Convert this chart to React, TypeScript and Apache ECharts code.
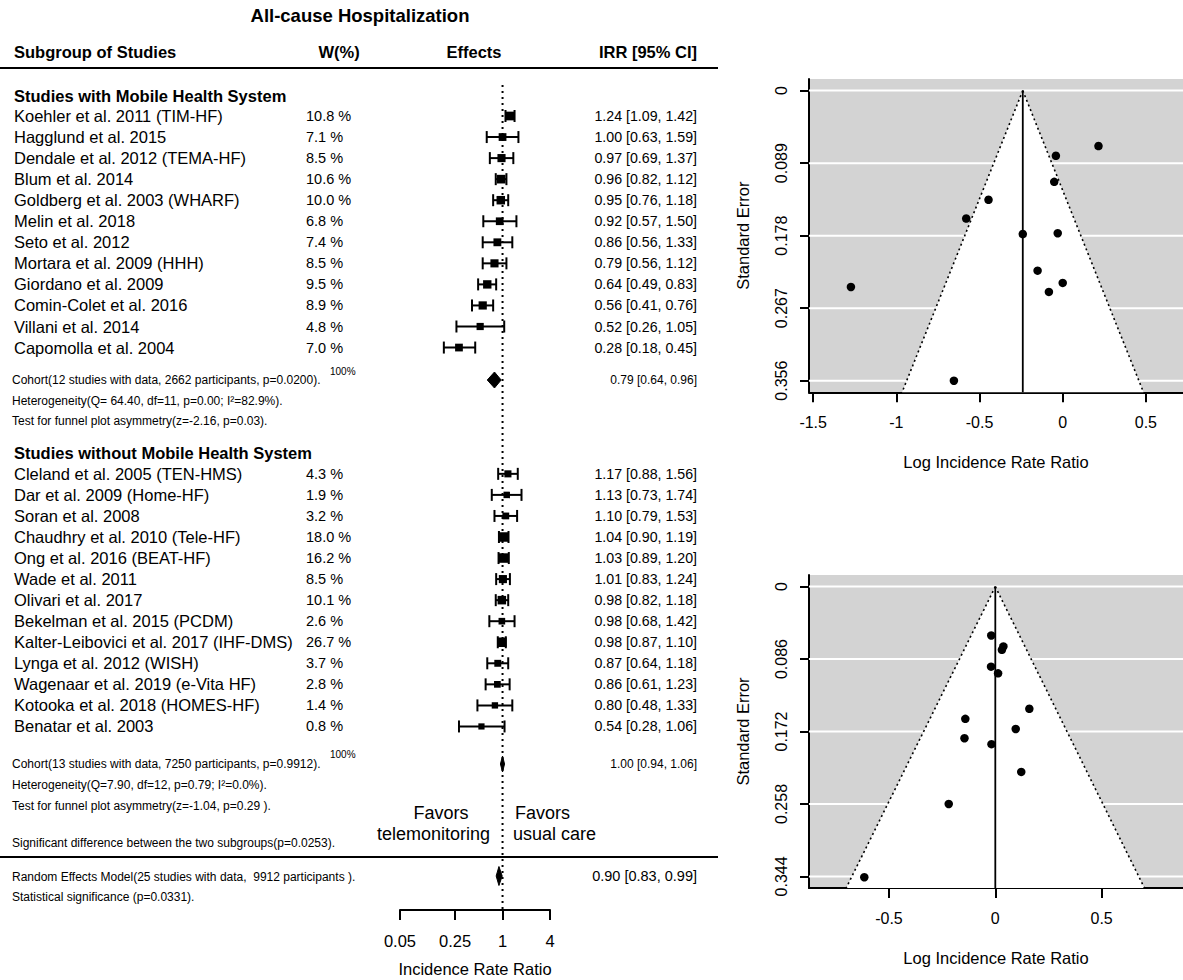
import { useEffect, useRef } from "react";
import * as echarts from "echarts";

// ---------- Forest plot data ----------
const mobileStudies = [
  "Koehler et al. 2011 (TIM-HF)",
  "Hagglund et al. 2015",
  "Dendale et al. 2012 (TEMA-HF)",
  "Blum et al. 2014",
  "Goldberg et al. 2003 (WHARF)",
  "Melin et al. 2018",
  "Seto et al. 2012",
  "Mortara et al. 2009 (HHH)",
  "Giordano et al. 2009",
  "Comin-Colet et al. 2016",
  "Villani et al. 2014",
  "Capomolla et al. 2004",
];
const mobileWeights = [10.8, 7.1, 8.5, 10.6, 10.0, 6.8, 7.4, 8.5, 9.5, 8.9, 4.8, 7.0];
const mobileIRR = [1.24, 1.0, 0.97, 0.96, 0.95, 0.92, 0.86, 0.79, 0.64, 0.56, 0.52, 0.28];
const mobileLower = [1.09, 0.63, 0.69, 0.82, 0.76, 0.57, 0.56, 0.56, 0.49, 0.41, 0.26, 0.18];
const mobileUpper = [1.42, 1.59, 1.37, 1.12, 1.18, 1.5, 1.33, 1.12, 0.83, 0.76, 1.05, 0.45];

const usualStudies = [
  "Cleland et al. 2005 (TEN-HMS)",
  "Dar et al. 2009 (Home-HF)",
  "Soran et al. 2008",
  "Chaudhry et al. 2010 (Tele-HF)",
  "Ong et al. 2016 (BEAT-HF)",
  "Wade et al. 2011",
  "Olivari et al. 2017",
  "Bekelman et al. 2015 (PCDM)",
  "Kalter-Leibovici et al. 2017 (IHF-DMS)",
  "Lynga et al. 2012 (WISH)",
  "Wagenaar et al. 2019 (e-Vita HF)",
  "Kotooka et al. 2018 (HOMES-HF)",
  "Benatar et al. 2003",
];
const usualWeights = [4.3, 1.9, 3.2, 18.0, 16.2, 8.5, 10.1, 2.6, 26.7, 3.7, 2.8, 1.4, 0.8];
const usualIRR = [1.17, 1.13, 1.1, 1.04, 1.03, 1.01, 0.98, 0.98, 0.98, 0.87, 0.86, 0.8, 0.54];
const usualLower = [0.88, 0.73, 0.79, 0.9, 0.89, 0.83, 0.82, 0.68, 0.87, 0.64, 0.61, 0.48, 0.28];
const usualUpper = [1.56, 1.74, 1.53, 1.19, 1.2, 1.24, 1.18, 1.42, 1.1, 1.18, 1.23, 1.33, 1.06];

// summaries: mobile cohort, usual cohort, random effects model
const summaryIRR = [0.79, 1.0, 0.9];
const summaryLower = [0.64, 0.94, 0.83];
const summaryUpper = [0.96, 1.06, 0.99];

const irrTicks = [0.05, 0.25, 1, 4];
const irrTickLabels = ["0.05", "0.25", "1", "4"];

// ---------- Funnel plot data ----------
const funnelMobileLogIRR = [0.215, 0.0, -0.03, -0.041, -0.051, -0.083, -0.151, -0.24, -0.446, -0.58, -0.654, -1.273];
const funnelMobileSE = [0.068, 0.236, 0.175, 0.08, 0.112, 0.247, 0.221, 0.176, 0.134, 0.157, 0.356, 0.241];
const funnelMobileCenter = -0.24;
const funnelMobileSETicks = [0, 0.089, 0.178, 0.267, 0.356];
const funnelMobileXTicks = [-1.5, -1, -0.5, 0, 0.5];

const funnelUsualLogIRR = [0.16, 0.122, 0.096, 0.038, 0.031, 0.013, -0.02, -0.018, -0.019, -0.141, -0.145, -0.219, -0.616];
const funnelUsualSE = [0.145, 0.22, 0.169, 0.071, 0.075, 0.103, 0.095, 0.187, 0.058, 0.157, 0.18, 0.258, 0.345];
const funnelUsualCenter = 0;
const funnelUsualSETicks = [0, 0.086, 0.172, 0.258, 0.344];
const funnelUsualXTicks = [-0.5, 0, 0.5];

// ---------- layout ----------
const FONT = "'Liberation Sans', Arial, Helvetica, sans-serif";
const ROW0_Y = 116;
const ROW_H = 21.05;
const Y_MIN = -4;
const AXIS_Y = 910;
const Y_MAX = (AXIS_Y - ROW0_Y) / ROW_H;
const rowOf = (px: number) => (px - ROW0_Y) / ROW_H;

function txt(text: string, x: number, y: number, size: number, opts: any = {}) {
  const align = opts.align || "left";
  return {
    type: "text",
    x,
    y,
    z: 20,
    silent: true,
    style: {
      text,
      fontSize: size,
      fontFamily: FONT,
      fontWeight: opts.bold ? "bold" : "normal",
      fill: "#000",
      align,
      verticalAlign: "middle",
      textAlign: align,
      textVerticalAlign: "middle",
    },
  };
}
function hline(y: number, x1: number, x2: number, w: number) {
  return {
    type: "line",
    z: 20,
    silent: true,
    shape: { x1, y1: y, x2, y2: y },
    style: { stroke: "#000", lineWidth: w },
  };
}

function funnelRender(center: number, seTicks: number[], seExt: number, xMin: number, xMax: number) {
  return (params: any, api: any) => {
    const children: any[] = [];
    seTicks.forEach((t) => {
      const a = api.coord([xMin, t]);
      const b = api.coord([xMax, t]);
      children.push({
        type: "line",
        shape: { x1: a[0], y1: a[1], x2: b[0], y2: b[1] },
        style: { stroke: "#fff", lineWidth: 2 },
      });
    });
    const apex = api.coord([center, 0]);
    const bl = api.coord([center - 1.96 * seExt, seExt]);
    const br = api.coord([center + 1.96 * seExt, seExt]);
    const bc = api.coord([center, seExt]);
    children.push({ type: "polygon", shape: { points: [apex, bl, br] }, style: { fill: "#fff" } });
    children.push({
      type: "line",
      shape: { x1: apex[0], y1: apex[1], x2: bl[0], y2: bl[1] },
      style: { stroke: "#000", lineWidth: 1.6, lineDash: [2, 3] },
    });
    children.push({
      type: "line",
      shape: { x1: apex[0], y1: apex[1], x2: br[0], y2: br[1] },
      style: { stroke: "#000", lineWidth: 1.6, lineDash: [2, 3] },
    });
    children.push({
      type: "line",
      shape: { x1: apex[0], y1: apex[1], x2: bc[0], y2: bc[1] },
      style: { stroke: "#000", lineWidth: 1.8 },
    });
    return { type: "group", children };
  };
}

export default function App() {
  const ref = useRef<HTMLDivElement>(null);

  useEffect(() => {
    if (!ref.current) return;
    const chart = echarts.init(ref.current, null, { renderer: "svg" });

    const names = [...mobileStudies, ...usualStudies];
    const weights = [...mobileWeights, ...usualWeights];
    const irr = [...mobileIRR, ...usualIRR];
    const lower = [...mobileLower, ...usualLower];
    const upper = [...mobileUpper, ...usualUpper];
    const rows = [...mobileStudies.map((_, i) => i), ...usualStudies.map((_, i) => 17 + i)];
    const studyData = irr.map((v, i) => [Math.log(v), Math.log(lower[i]), Math.log(upper[i]), rows[i], weights[i]]);

    const summaryRows = [rowOf(380), rowOf(764), rowOf(876)];
    const summaryHeights = [16, 16, 19];
    const summaryFont = [12, 12, 14.5];
    const summaryData = summaryIRR.map((v, i) => [
      Math.log(v),
      Math.log(summaryLower[i]),
      Math.log(summaryUpper[i]),
      summaryRows[i],
    ]);
    const fmtCI = (a: number, b: number, c: number) => `${a.toFixed(2)} [${b.toFixed(2)}, ${c.toFixed(2)}]`;

    const mSeExt = funnelMobileSETicks[funnelMobileSETicks.length - 1];
    const uSeExt = funnelUsualSETicks[funnelUsualSETicks.length - 1];
    const mYMin = -0.04 * mSeExt, mYMax = mSeExt * 1.04;
    const uYMin = -0.04 * uSeExt, uYMax = uSeExt * 1.04;
    const mX: [number, number] = [-1.525, 0.723];
    const uX: [number, number] = [-0.876, 0.8825];

    const logTicks = irrTicks.map((t) => Math.log(t));
    const irrLabel = (v: number) => {
      const k = logTicks.findIndex((t) => Math.abs(t - v) < 1e-6);
      return k >= 0 ? irrTickLabels[k] : "";
    };

    const funnelX = (gi: number, min: number, max: number, ticks: number[]) => ({
      gridIndex: gi,
      type: "value",
      min,
      max,
      axisLine: { show: true, onZero: false, lineStyle: { color: "#000", width: 2 } },
      axisTick: { show: true, length: 10, customValues: ticks, lineStyle: { color: "#000", width: 2 } },
      axisLabel: {
        customValues: ticks,
        formatter: (v: number) => String(v),
        margin: 22,
        fontSize: 16,
        fontFamily: FONT,
        color: "#000",
      },
      splitLine: { show: false },
      name: "Log Incidence Rate Ratio",
      nameLocation: "middle",
      nameGap: 61,
      nameTextStyle: { fontSize: 16.5, fontFamily: FONT, color: "#000" },
    });
    const funnelY = (gi: number, min: number, max: number, ticks: number[]) => ({
      gridIndex: gi,
      type: "value",
      inverse: true,
      min,
      max,
      axisLine: { show: true, onZero: false, lineStyle: { color: "#000", width: 2 } },
      axisTick: { show: true, length: 9, customValues: ticks, lineStyle: { color: "#000", width: 2 } },
      axisLabel: {
        customValues: ticks,
        formatter: (v: number) => String(v),
        rotate: 90,
        margin: 20,
        fontSize: 16,
        fontFamily: FONT,
        color: "#000",
      },
      splitLine: { show: false },
      name: "Standard Error",
      nameLocation: "middle",
      nameGap: 58,
      nameTextStyle: { fontSize: 16.5, fontFamily: FONT, color: "#000" },
    });

    const graphics: any[] = [
      txt("All-cause Hospitalization", 360, 15, 18.5, { bold: true, align: "center" }),
      txt("Subgroup of Studies", 14, 52, 16.5, { bold: true }),
      txt("W(%)", 339, 52, 16.5, { bold: true, align: "center" }),
      txt("Effects", 474, 52, 16.5, { bold: true, align: "center" }),
      txt("IRR [95% CI]", 697, 52, 16.5, { bold: true, align: "right" }),
      hline(68, 0, 718, 2),
      txt("Studies with Mobile Health System", 14, 96, 16.5, { bold: true }),
      txt("100%", 330, 371, 10),
      txt("Cohort(12 studies with data, 2662 participants, p=0.0200).", 12, 380, 12),
      txt("Heterogeneity(Q= 64.40, df=11, p=0.00; I\u00b2=82.9%).", 12, 401, 12),
      txt("Test for funnel plot asymmetry(z=-2.16, p=0.03).", 12, 421, 12),
      txt("Studies without Mobile Health System", 14, 453, 16.5, { bold: true }),
      txt("100%", 330, 754, 10),
      txt("Cohort(13 studies with data, 7250 participants, p=0.9912).", 12, 764, 12),
      txt("Heterogeneity(Q=7.90, df=12, p=0.79; I\u00b2=0.0%).", 12, 785, 12),
      txt("Test for funnel plot asymmetry(z=-1.04, p=0.29 ).", 12, 806, 12),
      txt("Favors", 441, 813, 18, { align: "center" }),
      txt("telemonitoring", 490, 834, 18, { align: "right" }),
      txt("Favors", 515, 813, 18),
      txt("usual care", 513, 834, 18),
      txt("Significant difference between the two subgroups(p=0.0253).", 12, 843, 12),
      hline(857, 0, 718, 2),
      txt("Random Effects Model(25 studies with data,  9912 participants ).", 12, 877, 12),
      txt("Statistical significance (p=0.0331).", 12, 897, 12),
      txt("Incidence Rate Ratio", 475, 969, 16.5, { align: "center" }),
    ];

    const option: any = {
      animation: false,
      backgroundColor: "#fff",
      grid: [
        {
          left: 400,
          width: 150,
          top: ROW0_Y + Y_MIN * ROW_H,
          height: (Y_MAX - Y_MIN) * ROW_H,
          containLabel: false,
        },
        { left: 809, right: 0, top: 79, height: 313.3, show: true, backgroundColor: "#d3d3d3", borderWidth: 0 },
        { left: 809, right: 0, top: 575, height: 313, show: true, backgroundColor: "#d3d3d3", borderWidth: 0 },
      ],
      xAxis: [
        {
          gridIndex: 0,
          type: "value",
          min: Math.log(0.05),
          max: Math.log(4),
          axisLine: { show: true, onZero: false, lineStyle: { color: "#000", width: 2 } },
          axisTick: { show: true, length: 10, customValues: logTicks, lineStyle: { color: "#000", width: 2 } },
          axisLabel: {
            customValues: logTicks,
            formatter: irrLabel,
            margin: 22,
            fontSize: 16.5,
            fontFamily: FONT,
            color: "#000",
          },
          splitLine: { show: false },
        },
        funnelX(1, mX[0], mX[1], funnelMobileXTicks),
        funnelX(2, uX[0], uX[1], funnelUsualXTicks),
      ],
      yAxis: [
        { gridIndex: 0, type: "value", min: Y_MIN, max: Y_MAX, inverse: true, show: false },
        funnelY(1, mYMin, mYMax, funnelMobileSETicks),
        funnelY(2, uYMin, uYMax, funnelUsualSETicks),
      ],
      graphic: graphics,
      series: [
        // dotted reference line at IRR = 1
        {
          type: "custom",
          xAxisIndex: 0,
          yAxisIndex: 0,
          clip: false,
          z: 1,
          data: [[0, rowOf(85), Y_MAX]],
          renderItem: (params: any, api: any) => {
            const a = api.coord([api.value(0), api.value(1)]);
            const b = api.coord([api.value(0), api.value(2)]);
            return {
              type: "line",
              shape: { x1: a[0], y1: a[1], x2: b[0], y2: b[1] },
              style: { stroke: "#000", lineWidth: 2, lineDash: [2, 4] },
            };
          },
        },
        // studies
        {
          type: "custom",
          xAxisIndex: 0,
          yAxisIndex: 0,
          clip: false,
          z: 3,
          data: studyData,
          renderItem: (params: any, api: any) => {
            const i = params.dataIndex;
            const row = api.value(3);
            const c = api.coord([api.value(0), row]);
            const l = api.coord([api.value(1), row]);
            const h = api.coord([api.value(2), row]);
            const y = c[1];
            const w = api.value(4);
            const s = Math.min(9.5, 6 + 0.25 * w);
            const stroke = { stroke: "#000", lineWidth: 2 };
            const tstyle = (text: string, x: number, align: string, size: number) => ({
              type: "text",
              style: {
                text,
                x,
                y,
                fontSize: size,
                fontFamily: FONT,
                fill: "#000",
                align,
                verticalAlign: "middle",
              },
            });
            return {
              type: "group",
              children: [
                { type: "line", shape: { x1: l[0], y1: y, x2: h[0], y2: y }, style: stroke },
                { type: "line", shape: { x1: l[0], y1: y - 6, x2: l[0], y2: y + 6 }, style: stroke },
                { type: "line", shape: { x1: h[0], y1: y - 6, x2: h[0], y2: y + 6 }, style: stroke },
                { type: "rect", shape: { x: c[0] - s / 2, y: y - s / 2, width: s, height: s }, style: { fill: "#000" } },
                tstyle(names[i], 14, "left", 16.5),
                tstyle(`${weights[i].toFixed(1)} %`, 306, "left", 14.5),
                tstyle(fmtCI(irr[i], lower[i], upper[i]), 697, "right", 14.2),
              ],
            };
          },
        },
        // summary diamonds
        {
          type: "custom",
          xAxisIndex: 0,
          yAxisIndex: 0,
          clip: false,
          z: 3,
          data: summaryData,
          renderItem: (params: any, api: any) => {
            const i = params.dataIndex;
            const row = api.value(3);
            const c = api.coord([api.value(0), row]);
            const l = api.coord([api.value(1), row]);
            const h = api.coord([api.value(2), row]);
            const y = c[1];
            const hh = summaryHeights[i] / 2;
            return {
              type: "group",
              children: [
                {
                  type: "polygon",
                  shape: { points: [[l[0], y], [c[0], y - hh], [h[0], y], [c[0], y + hh]] },
                  style: { fill: "#000", stroke: "#000", lineWidth: 1 },
                },
                {
                  type: "text",
                  style: {
                    text: fmtCI(summaryIRR[i], summaryLower[i], summaryUpper[i]),
                    x: 697,
                    y,
                    fontSize: summaryFont[i],
                    fontFamily: FONT,
                    fill: "#000",
                    align: "right",
                    verticalAlign: "middle",
                  },
                },
              ],
            };
          },
        },
        // funnel mobile background
        {
          type: "custom",
          xAxisIndex: 1,
          yAxisIndex: 1,
          z: 1,
          silent: true,
          data: [[funnelMobileCenter, 0]],
          renderItem: funnelRender(funnelMobileCenter, funnelMobileSETicks, mYMax, mX[0], mX[1]),
        },
        {
          type: "scatter",
          xAxisIndex: 1,
          yAxisIndex: 1,
          z: 3,
          symbolSize: 8.5,
          itemStyle: { color: "#000", opacity: 1 },
          data: funnelMobileLogIRR.map((v, i) => [v, funnelMobileSE[i]]),
        },
        // funnel usual background
        {
          type: "custom",
          xAxisIndex: 2,
          yAxisIndex: 2,
          z: 1,
          silent: true,
          data: [[funnelUsualCenter, 0]],
          renderItem: funnelRender(funnelUsualCenter, funnelUsualSETicks, uYMax, uX[0], uX[1]),
        },
        {
          type: "scatter",
          xAxisIndex: 2,
          yAxisIndex: 2,
          z: 3,
          symbolSize: 8.5,
          itemStyle: { color: "#000", opacity: 1 },
          data: funnelUsualLogIRR.map((v, i) => [v, funnelUsualSE[i]]),
        },
      ],
    };

    chart.setOption(option);
    return () => chart.dispose();
  }, []);

  return (
    <div
      ref={ref}
      style={{ position: "absolute", left: 0, top: 0, width: 1183, height: 980, background: "#fff" }}
    />
  );
}
